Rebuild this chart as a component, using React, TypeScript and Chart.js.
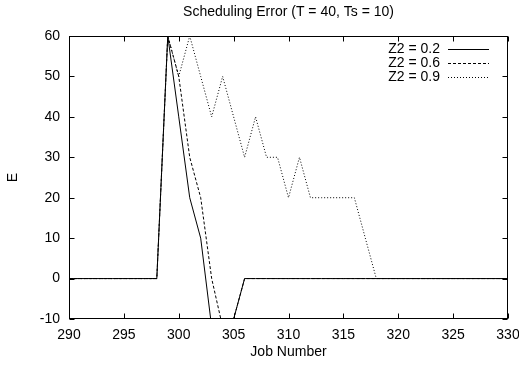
import React, { useEffect, useRef } from "react";
import { Chart, registerables } from "chart.js";

Chart.register(...registerables);

const jobs = [
  290, 291, 292, 293, 294, 295, 296, 297, 298, 299, 300, 301, 302, 303, 304, 305, 306, 307, 308, 309,
  310, 311, 312, 313, 314, 315, 316, 317, 318, 319, 320, 321, 322, 323, 324, 325, 326, 327, 328, 329, 330,
];

const z02 = [
  0, 0, 0, 0, 0, 0, 0, 0, 0, 60, 40, 20, 10, -12, -20, -10, 0, 0, 0, 0,
  0, 0, 0, 0, 0, 0, 0, 0, 0, 0, 0, 0, 0, 0, 0, 0, 0, 0, 0, 0, 0,
];
const z06 = [
  0, 0, 0, 0, 0, 0, 0, 0, 0, 60, 50, 30, 20, 0, -12, -10, 0, 0, 0, 0,
  0, 0, 0, 0, 0, 0, 0, 0, 0, 0, 0, 0, 0, 0, 0, 0, 0, 0, 0, 0, 0,
];
const z09 = [
  0, 0, 0, 0, 0, 0, 0, 0, 0, 60, 50, 60, 50, 40, 50, 40, 30, 40, 30, 30,
  20, 30, 20, 20, 20, 20, 20, 10, 0, 0, 0, 0, 0, 0, 0, 0, 0, 0, 0, 0, 0,
];

const seriesLabels = ["Z2 = 0.2", "Z2 = 0.6", "Z2 = 0.9"];
const xTicks = [290, 295, 300, 305, 310, 315, 320, 325, 330];
const yTicks = [-10, 0, 10, 20, 30, 40, 50, 60];

const titleText = "Scheduling Error (T = 40, Ts = 10)";
const xTitle = "Job Number";
const yTitle = "E";

const FONT = "'Liberation Sans', Arial, Helvetica, sans-serif";

const framePlugin = {
  id: "gnuplotFrame",
  afterDatasetsDraw(chart: any) {
    const ctx = chart.ctx;
    const a = chart.chartArea;
    const xs = chart.scales.x;
    const ys = chart.scales.y;
    const L = Math.round(a.left) + 0.5;
    const R = Math.round(a.right) - 0.5;
    const T = Math.round(a.top) + 0.5;
    const B = Math.round(a.bottom) - 0.5;
    ctx.save();
    ctx.strokeStyle = "#000";
    ctx.lineWidth = 1;
    ctx.setLineDash([]);
    ctx.strokeRect(L, T, R - L, B - T);
    const tl = 5;
    ctx.beginPath();
    xTicks.forEach((v) => {
      const px = Math.round(xs.getPixelForValue(v)) + 0.5;
      ctx.moveTo(px, B);
      ctx.lineTo(px, B - tl);
      ctx.moveTo(px, T);
      ctx.lineTo(px, T + tl);
    });
    yTicks.forEach((v) => {
      const py = Math.round(ys.getPixelForValue(v)) + 0.5;
      ctx.moveTo(L, py);
      ctx.lineTo(L + tl, py);
      ctx.moveTo(R, py);
      ctx.lineTo(R - tl, py);
    });
    ctx.stroke();

    // legend (gnuplot style: text right-aligned, sample on the right)
    const textRight = a.right - 68;
    const sampleL = a.right - 60;
    const sampleR = a.right - 19;
    const rowY0 = a.top + 13;
    const rowH = 14;
    ctx.font = "14px " + FONT;
    ctx.fillStyle = "#000";
    ctx.textAlign = "right";
    ctx.textBaseline = "middle";
    chart.data.datasets.forEach((ds: any, i: number) => {
      const y = Math.round(rowY0 + i * rowH) + 0.5;
      ctx.fillText(ds.label, textRight, y);
      ctx.beginPath();
      ctx.setLineDash(ds.borderDash || []);
      ctx.lineWidth = 1;
      ctx.moveTo(sampleL, y);
      ctx.lineTo(sampleR, y);
      ctx.stroke();
    });
    ctx.restore();
  },
};

export default function App() {
  const ref = useRef<HTMLCanvasElement>(null);
  useEffect(() => {
    document.body.style.margin = "0";
    Chart.defaults.font.family = FONT;
    Chart.defaults.color = "#000";
    const mk = (vals: number[]) => vals.map((v, i) => ({ x: jobs[i], y: v }));
    const chart = new Chart(ref.current as HTMLCanvasElement, {
      type: "line",
      data: {
        datasets: [
          { label: seriesLabels[0], data: mk(z02), borderColor: "#000", borderWidth: 1, borderDash: [], pointRadius: 0, tension: 0, fill: false },
          { label: seriesLabels[1], data: mk(z06), borderColor: "#000", borderWidth: 1, borderDash: [3, 2], pointRadius: 0, tension: 0, fill: false },
          { label: seriesLabels[2], data: mk(z09), borderColor: "#000", borderWidth: 1, borderDash: [1, 2], pointRadius: 0, tension: 0, fill: false },
        ],
      },
      options: {
        responsive: false,
        animation: false,
        layout: { padding: { left: 0, right: 11, top: 0, bottom: 0 } },
        plugins: {
          legend: { display: false },
          tooltip: { enabled: false },
          title: {
            display: true,
            text: titleText,
            fullSize: false,
            color: "#000",
            font: { size: 14, weight: "normal", family: FONT },
            padding: { top: 4, bottom: 15.2 },
          },
        },
        scales: {
          x: {
            type: "linear",
            min: 290,
            max: 330,
            afterBuildTicks: (s: any) => {
              s.ticks = xTicks.map((v) => ({ value: v }));
            },
            afterFit: (s: any) => {
              s.height = 47;
              s.paddingLeft = 0;
              s.paddingRight = 0;
            },
            grid: { display: false, drawTicks: false },
            border: { display: false },
            ticks: { font: { size: 14 }, color: "#000", padding: 8, maxRotation: 0, autoSkip: false },
            title: { display: true, text: xTitle, font: { size: 14 }, color: "#000", padding: { top: 0, bottom: 5 } },
          },
          y: {
            type: "linear",
            min: -10,
            max: 60,
            afterBuildTicks: (s: any) => {
              s.ticks = yTicks.map((v) => ({ value: v }));
            },
            afterFit: (s: any) => {
              s.width = 69;
              s.paddingTop = 0;
              s.paddingBottom = 0;
            },
            grid: { display: false, drawTicks: false },
            border: { display: false },
            ticks: { font: { size: 14 }, color: "#000", padding: 9 },
            title: { display: true, text: yTitle, font: { size: 14 }, color: "#000", padding: { top: 5, bottom: 0 } },
          },
        },
      },
      plugins: [framePlugin],
    } as any);
    return () => chart.destroy();
  }, []);
  return (
    <div style={{ position: "fixed", left: 0, top: 0, width: 519, height: 366, background: "#fff" }}>
      <canvas ref={ref} width={519} height={366} style={{ width: 519, height: 366 }} />
    </div>
  );
}
